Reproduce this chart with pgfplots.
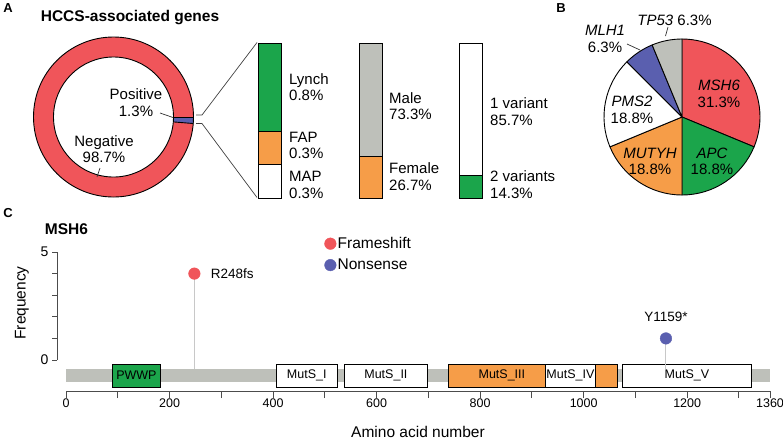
\documentclass[border=0pt]{standalone}
\usepackage{pgfplots}
\pgfplotsset{compat=1.18}
\usepackage{fontspec}
\setmainfont{Liberation Sans}
\definecolor{cred}{RGB}{240,85,90}
\definecolor{cgreen}{RGB}{27,165,75}
\definecolor{corange}{RGB}{246,157,72}
\definecolor{cblue}{RGB}{90,95,175}
\definecolor{cgrey}{RGB}{190,192,186}
\definecolor{cstem}{RGB}{200,200,200}
\newcommand{\fs}[1]{\fontsize{#1}{16.5}\selectfont}
\begin{document}
\begin{tikzpicture}
\useasboundingbox (0pt,0pt) rectangle (783pt,-440pt);
% panel letters and titles
\node[font=\bfseries\fs{13}] at (8pt,-8pt) {A};
\node[font=\bfseries\fs{13}] at (561pt,-8pt) {B};
\node[font=\bfseries\fs{13}] at (8pt,-213pt) {C};
\node[font=\bfseries\fs{15.5}] at (130pt,-18pt) {HCCS-associated genes};
\node[font=\bfseries\fs{15.5}] at (66.5pt,-229pt) {MSH6};

% ---------- donut (Positive 1.3, Negative 98.7) ----------
\begin{axis}[at={(113.5pt,-117pt)}, anchor=center, scale only axis, x=1pt, y=1pt,
  xmin=-82, xmax=82, ymin=-82, ymax=82, hide axis, clip=false]
\fill[cred] (axis cs:0,0) circle[radius=80pt];
\fill[cblue] (axis cs:0,0) -- ++(0:80pt) arc[start angle=0, end angle=-4.68, radius=80pt] -- cycle;
\fill[white] (axis cs:0,0) circle[radius=60pt];
\draw[line width=0.9pt] (axis cs:0,0) circle[radius=80pt];
\draw[line width=0.9pt] (axis cs:0,0) circle[radius=60pt];
\draw[line width=0.9pt] (axis cs:60,0) -- (axis cs:80,0);
\draw[line width=0.9pt] (axis cs:0,0) ++(-4.68:60pt) -- ++(-4.68:20pt);
\end{axis}
\node[font=\fs{15}, align=center] at (136pt,-102.5pt) {Positive\\1.3\%};
\node[font=\fs{15}, align=center] at (104pt,-149pt) {Negative\\98.7\%};
\draw[black!80, line width=0.7pt] (160pt,-113pt) -- (173pt,-117.5pt);
\draw[black!80, line width=0.7pt] (100pt,-168pt) -- (97pt,-177pt);
% bracket and zoom lines
\draw[black!75, line width=0.7pt] (196pt,-115pt) -- (202pt,-115pt) -- (257pt,-42.5pt);
\draw[black!75, line width=0.7pt] (196pt,-123.5pt) -- (202pt,-123.5pt) -- (257pt,-197.5pt);

% ---------- stacked bars ----------
\begin{axis}[at={(258pt,-198pt)}, anchor=south west, scale only axis, width=23pt, height=155pt,
  xmin=-0.5, xmax=0.5, ymin=0, ymax=1.4, ybar stacked, bar width=23pt, hide axis, clip=false]
\addplot[fill=white, draw=black, line width=0.8pt] coordinates {(0,0.3)};   % MAP
\addplot[fill=corange, draw=black, line width=0.8pt] coordinates {(0,0.3)}; % FAP
\addplot[fill=cgreen, draw=black, line width=0.8pt] coordinates {(0,0.8)};  % Lynch
\end{axis}
\begin{axis}[at={(359pt,-198pt)}, anchor=south west, scale only axis, width=23pt, height=155pt,
  xmin=-0.5, xmax=0.5, ymin=0, ymax=100, ybar stacked, bar width=23pt, hide axis, clip=false]
\addplot[fill=corange, draw=black, line width=0.8pt] coordinates {(0,26.7)}; % Female
\addplot[fill=cgrey, draw=black, line width=0.8pt] coordinates {(0,73.3)};   % Male
\end{axis}
\begin{axis}[at={(459pt,-198pt)}, anchor=south west, scale only axis, width=23pt, height=155pt,
  xmin=-0.5, xmax=0.5, ymin=0, ymax=100, ybar stacked, bar width=23pt, hide axis, clip=false]
\addplot[fill=cgreen, draw=black, line width=0.8pt] coordinates {(0,14.3)}; % 2 variants
\addplot[fill=white, draw=black, line width=0.8pt] coordinates {(0,85.7)};  % 1 variant
\end{axis}
\begin{scope}[every node/.style={font=\fs{15}, align=left, anchor=west, inner sep=0pt}]
\node at (289pt,-87pt) {Lynch\\0.8\%};
\node at (289pt,-145.5pt) {FAP\\0.3\%};
\node at (289pt,-185pt) {MAP\\0.3\%};
\node at (389pt,-106pt) {Male\\73.3\%};
\node at (389pt,-176.5pt) {Female\\26.7\%};
\node at (490pt,-111.5pt) {1 variant\\85.7\%};
\node at (490pt,-184.5pt) {2 variants\\14.3\%};
\end{scope}

% ---------- pie B (MSH6 31.25, APC 18.75, MUTYH 18.75, PMS2 18.75, MLH1 6.25, TP53 6.25) ----------
\begin{axis}[at={(682pt,-117pt)}, anchor=center, scale only axis, x=1pt, y=1pt,
  xmin=-80, xmax=80, ymin=-80, ymax=80, hide axis, clip=false]
\filldraw[fill=cred, line width=0.9pt, line join=round] (axis cs:0,0) -- ++(90:78pt) arc[start angle=90, end angle=-22.5, radius=78pt] -- cycle;
\filldraw[fill=cgreen, line width=0.9pt, line join=round] (axis cs:0,0) -- ++(-22.5:78pt) arc[start angle=-22.5, end angle=-90, radius=78pt] -- cycle;
\filldraw[fill=corange, line width=0.9pt, line join=round] (axis cs:0,0) -- ++(-90:78pt) arc[start angle=-90, end angle=-157.5, radius=78pt] -- cycle;
\filldraw[fill=white, line width=0.9pt, line join=round] (axis cs:0,0) -- ++(-157.5:78pt) arc[start angle=-157.5, end angle=-225, radius=78pt] -- cycle;
\filldraw[fill=cblue, line width=0.9pt, line join=round] (axis cs:0,0) -- ++(-225:78pt) arc[start angle=-225, end angle=-247.5, radius=78pt] -- cycle;
\filldraw[fill=cgrey, line width=0.9pt, line join=round] (axis cs:0,0) -- ++(-247.5:78pt) arc[start angle=-247.5, end angle=-270, radius=78pt] -- cycle;
\end{axis}
\begin{scope}[every node/.style={font=\fs{15}, align=center}]
\node at (719pt,-94pt) {\itshape MSH6\\31.3\%};
\node at (712pt,-161.5pt) {\itshape APC\\18.8\%};
\node at (650pt,-161.5pt) {\itshape MUTYH\\18.8\%};
\node at (632pt,-110pt) {\itshape PMS2\\18.8\%};
\node at (605pt,-39pt) {\itshape MLH1\\6.3\%};
\node at (674.5pt,-20pt) {\itshape TP53\upshape{} 6.3\%};
\end{scope}
\draw[black!80, line width=0.7pt] (627pt,-44pt) -- (640pt,-50pt);
\draw[black!80, line width=0.7pt] (668pt,-27pt) -- (665.5pt,-36pt);

% ---------- panel C ----------
\begin{axis}[at={(57pt,-360pt)}, anchor=south west, scale only axis, width=1pt, y=21.6pt,
  xmin=0, xmax=1, ymin=0, ymax=5, axis y line=left, axis x line=none,
  axis line style={-, line width=1pt, black!70},
  ytick={0,1,2,3,4,5}, yticklabels={0,,,,,5}, tick align=outside, major tick length=5pt,
  tick style={line width=1pt, black!70}, yticklabel style={font=\fs{14}}]
\end{axis}
\node[rotate=90, font=\fs{15.5}] at (22pt,-303pt) {Frequency};
\node[font=\fs{15.5}] at (418pt,-432pt) {Amino acid number};

\begin{axis}[at={(66pt,-391pt)}, anchor=south west, scale only axis, x=0.51765pt, y=21.6pt,
  xmin=0, xmax=1360, ymin=-1.435, ymax=5, axis x line=bottom, axis y line=none,
  axis line style={-, line width=1pt, black!70},
  xtick={0,100,...,1300,1360}, xticklabels={0,,200,,400,,600,,800,,1000,,1200,,1360},
  tick align=outside, major tick length=7pt, tick style={line width=1pt, black!70},
  xticklabel style={font=\fs{12.5}, yshift=3pt}, clip=false,
  legend style={at={(0.367,1.118)}, anchor=north west, draw=none, fill=none, font=\fs{15.5},
    row sep=6pt, inner sep=0pt, nodes={inner sep=1.5pt}},
  legend cell align=left,
  legend image code/.code={\draw[#1] plot coordinates {(0pt,0pt)};}]
% backbone
\fill[cgrey] (axis cs:0,-0.417) rectangle (axis cs:1360,-1.02);
% domains
\draw[fill=cgreen, line width=0.8pt] (axis cs:89,-0.185) rectangle (axis cs:183,-1.25);
\draw[fill=white, line width=0.8pt] (axis cs:406,-0.185) rectangle (axis cs:524,-1.25);
\draw[fill=white, line width=0.8pt] (axis cs:537,-0.185) rectangle (axis cs:699,-1.25);
\draw[fill=corange, line width=0.8pt] (axis cs:738,-0.185) rectangle (axis cs:1065,-1.25);
\draw[fill=white, line width=0.8pt] (axis cs:927,-0.185) rectangle (axis cs:1022,-1.25);
\draw[fill=white, line width=0.8pt] (axis cs:1074,-0.185) rectangle (axis cs:1325,-1.25);
\begin{scope}[every node/.style={font=\fs{12.5}}]
\node at (axis cs:136,-0.72) {PWWP};
\node at (axis cs:465,-0.72) {MutS\_I};
\node at (axis cs:618,-0.72) {MutS\_II};
\node at (axis cs:842,-0.72) {MutS\_III};
\node at (axis cs:974.5,-0.72) {MutS\_IV};
\node at (axis cs:1199.5,-0.72) {MutS\_V};
\end{scope}
% stems
\addplot[cstem, line width=1pt, forget plot] coordinates {(248,-0.42) (248,4)};
\addplot[cstem, line width=1pt, forget plot] coordinates {(1159,-0.42) (1159,1)};
% heads
\addplot[only marks, mark=*, mark size=5.8pt, color=cred] coordinates {(248,4)};
\addlegendentry{Frameshift}
\addplot[only marks, mark=*, mark size=5.8pt, color=cblue] coordinates {(1159,1)};
\addlegendentry{Nonsense}
\node[anchor=west, font=\fs{13.5}, xshift=13pt] at (axis cs:248,4) {R248fs};
\node[font=\fs{13.5}, yshift=22pt] at (axis cs:1159,1) {Y1159*};
\end{axis}
\end{tikzpicture}
\end{document}
